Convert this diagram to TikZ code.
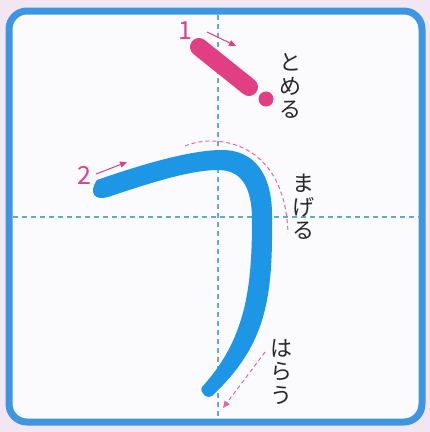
\documentclass[tikz,border=0pt]{standalone}
\usepackage{fontspec}
\newfontfamily\jpfont{Noto Sans CJK JP}
\usetikzlibrary{arrows.meta}
\definecolor{bgpink}{RGB}{243,230,243}
\definecolor{paper}{RGB}{251,251,253}
\definecolor{framebl}{RGB}{62,150,225}
\definecolor{strokebl}{RGB}{30,150,230}
\definecolor{inkpink}{RGB}{226,62,132}
\definecolor{guide}{RGB}{100,168,202}
\definecolor{txt}{RGB}{40,40,40}
\tikzset{
  guideline/.style={guide, line width=1.1pt, dash pattern=on 5pt off 4pt},
  jplabel/.style={txt, font=\jpfont\fontsize{22}{23.5}\selectfont, align=center, inner sep=0pt},
  numlabel/.style={inkpink, font=\jpfont\fontsize{25}{25}\selectfont, inner sep=0pt},
  dirarrow/.style={inkpink, line width=1pt, -{Triangle[length=7pt,width=6pt]}},
  hintline/.style={inkpink!80, line width=1pt, dash pattern=on 4pt off 3pt},
}
\begin{document}
\begin{tikzpicture}[x=1pt,y=-1pt]
\useasboundingbox (0,0) rectangle (430,432);
\fill[bgpink] (0,0) rectangle (430,432);
% frame
\draw[framebl, line width=7pt, fill=paper, rounded corners=18pt] (9,11) rectangle (422,422);
% guide lines
\draw[guideline] (218,15) -- (218,418);
\draw[guideline] (13,217) -- (419,217);
% stroke 1
\draw[inkpink, line width=18pt, line cap=round] (199,47) -- (249,87);
\fill[inkpink] (266,99) circle (7.5);
\node[numlabel] (n1) at (185,31) {1};
\coordinate (a1s) at (207,32);
\coordinate (a1e) at (236,46);
\draw[dirarrow] (a1s) -- (a1e);
\node[jplabel] (tomeru) at (290,86) {と\\め\\る};
% stroke 2
\fill[strokebl] (97,180) .. controls (140,165) and (190,150) .. (222,150)
  .. controls (255,150) and (272,175) .. (272,215)
  .. controls (273,300) and (266,345) .. (212,396)
  .. controls (208,400) and (199,393) .. (202,387)
  .. controls (245,340) and (252,290) .. (252,220)
  .. controls (252,185) and (240,170) .. (218,170)
  .. controls (190,170) and (150,183) .. (108,197)
  .. controls (95,201) and (88,193) .. (97,180) -- cycle;
\node[numlabel] (n2) at (84,175) {2};
\coordinate (a2s) at (96,174);
\coordinate (a2e) at (127,162);
\draw[dirarrow] (a2s) -- (a2e);
% bend hint
\coordinate (b1) at (185,146);
\coordinate (b2) at (288,233);
\draw[hintline] (b1) .. controls (215,133) and (285,140) .. (b2);
\node[jplabel] (mageru) at (303,207) {ま\\げ\\る};
% sweep hint
\coordinate (h1) at (265,352);
\coordinate (h2) at (223,408);
\draw[hintline, -{Triangle[length=7pt,width=6pt]}] (h1) -- (h2);
\node[jplabel] (harau) at (281,372) {は\\ら\\う};
\end{tikzpicture}
\end{document}
